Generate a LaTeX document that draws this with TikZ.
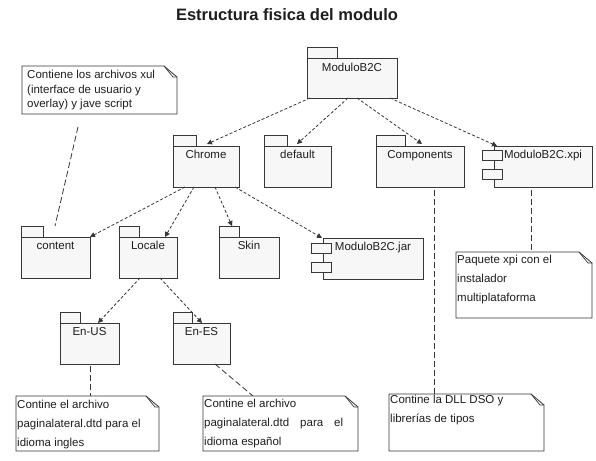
\documentclass[tikz,border=0pt]{standalone}
\usepackage{fontspec}
\setmainfont{Liberation Sans}
\usetikzlibrary{arrows.meta}
\definecolor{pkgfill}{RGB}{247,247,247}
\definecolor{ln}{RGB}{55,55,55}
\definecolor{txt}{RGB}{30,30,30}
\begin{document}
\begin{tikzpicture}[x=1pt,y=-1pt,
  box/.style={draw=ln, line width=0.8pt, fill=pkgfill, inner sep=0pt, outer sep=0pt, anchor=north west},
  tab/.style={draw=ln, line width=0.8pt, fill=pkgfill, inner sep=0pt, outer sep=0pt, anchor=south west, minimum height=11pt},
  icon/.style={draw=ln, line width=0.8pt, fill=pkgfill, inner sep=0pt, outer sep=0pt, anchor=north west, minimum width=20pt, minimum height=10pt},
  notebox/.style={inner sep=0pt, outer sep=0pt, anchor=north west},
  lbl/.style={font=\fontsize{11.5}{14}\selectfont, text=txt, inner sep=0pt, anchor=mid},
  ntext/.style={font=\fontsize{11.5}{19}\selectfont, text=txt, inner sep=0pt, align=left, anchor=north west},
  dep/.style={draw=ln, line width=0.8pt, dash pattern=on 3pt off 2pt, -{Triangle[length=5pt,width=5pt]}},
  nlink/.style={draw=ln, line width=0.8pt, dash pattern=on 6pt off 3pt},
  noteline/.style={draw=ln, line width=0.8pt, fill=white, line join=miter}
]
\path[use as bounding box, fill=white] (0,0) rectangle (596,460);

\node[font=\bfseries\fontsize{16.5}{20}\selectfont, text=txt, inner sep=0pt] (title) at (287,15) {Estructura fisica del modulo};

% packages
\node[box, minimum width=90pt, minimum height=40pt] (MB) at (307,58) {};
\node[tab, minimum width=30pt] (MBTab) at (MB.north west) {};
\node[lbl] (MBL) at ([yshift=-11pt]MB.north) {ModuloB2C};

\node[box, minimum width=66pt, minimum height=41pt] (Chrome) at (173,146) {};
\node[tab, minimum width=23pt] (ChromeTab) at (Chrome.north west) {};
\node[lbl] (ChromeL) at ([yshift=-10pt]Chrome.north) {Chrome};

\node[box, minimum width=67pt, minimum height=41pt] (Default) at (264,146) {};
\node[tab, minimum width=23pt] (DefaultTab) at (Default.north west) {};
\node[lbl] (DefaultL) at ([yshift=-10pt]Default.north) {default};

\node[box, minimum width=88pt, minimum height=41pt] (Comp) at (376,146) {};
\node[tab, minimum width=29pt] (CompTab) at (Comp.north west) {};
\node[lbl] (CompL) at ([yshift=-10pt]Comp.north) {Components};

\node[box, minimum width=69pt, minimum height=41pt] (Content) at (21,237) {};
\node[tab, minimum width=22pt] (ContentTab) at (Content.north west) {};
\node[lbl] (ContentL) at ([yshift=-10pt]Content.north) {content};

\node[box, minimum width=58pt, minimum height=41pt] (Locale) at (119,237) {};
\node[tab, minimum width=20pt] (LocaleTab) at (Locale.north west) {};
\node[lbl] (LocaleL) at ([yshift=-10pt]Locale.north) {Locale};

\node[box, minimum width=60pt, minimum height=41pt] (Skin) at (219,237) {};
\node[tab, minimum width=20pt] (SkinTab) at (Skin.north west) {};
\node[lbl] (SkinL) at ([yshift=-10pt]Skin.north) {Skin};

\node[box, minimum width=59pt, minimum height=41pt] (EnUS) at (60,323) {};
\node[tab, minimum width=20pt] (EnUSTab) at (EnUS.north west) {};
\node[lbl] (EnUSL) at ([yshift=-10pt]EnUS.north) {En-US};

\node[box, minimum width=57pt, minimum height=41pt] (EnES) at (173,323) {};
\node[tab, minimum width=19pt] (EnESTab) at (EnES.north west) {};
\node[lbl] (EnESL) at ([yshift=-10pt]EnES.north) {En-ES};

% components
\node[box, minimum width=98pt, minimum height=41pt] (Xpi) at (494,146) {};
\node[icon] (XpiI1) at ([xshift=-12pt,yshift=-4pt]Xpi.north west) {};
\node[icon] (XpiI2) at ([xshift=-12pt,yshift=-23pt]Xpi.north west) {};
\node[lbl] (XpiL) at ([yshift=-10pt]Xpi.north) {ModuloB2C.xpi};

\node[box, minimum width=100pt, minimum height=41pt] (Jar) at (323,238) {};
\node[icon] (JarI1) at ([xshift=-12pt,yshift=-5pt]Jar.north west) {};
\node[icon] (JarI2) at ([xshift=-12pt,yshift=-24pt]Jar.north west) {};
\node[lbl] (JarL) at ([yshift=-10pt]Jar.north) {ModuloB2C.jar};

% note anchors (invisible boxes)
\foreach \n/\x/\y/\w/\h in {N1/22/66/155/48, NX/456/252/136/66, NUS/16/396/143/55, NES/203/396/155/55, NC/389/394/155/57}{
  \node[notebox, minimum width=\w pt, minimum height=\h pt] (\n) at (\x,\y) {};
}

% note links (drawn first, notes cover their ends)
\draw[nlink] ([xshift=56pt,yshift=-13pt]N1.south west) -- ([xshift=12pt]ContentTab.north east);
\draw[nlink] ([xshift=58pt,yshift=-3pt]Comp.south west) -- ([xshift=45pt]NC.north west);
\draw[nlink] ([xshift=37pt,yshift=-3pt]Xpi.south west) -- ([xshift=75pt]NX.north west);
\draw[nlink] ([xshift=30pt,yshift=-2pt]EnUS.south west) -- ([xshift=74pt]NUS.north west);
\draw[nlink] ([xshift=42pt]EnES.south west) -- ([xshift=50pt]NES.north west);

% note outlines
\foreach \n in {N1,NX,NUS,NES,NC}{
  \draw[noteline] (\n.north west) -- ([xshift=-13pt]\n.north east) -- ([yshift=-11pt]\n.north east) -- (\n.south east) -- (\n.south west) -- cycle;
  \draw[draw=ln, line width=0.7pt, line join=miter] ([xshift=-13pt]\n.north east) -- ([xshift=-4pt,yshift=-11pt]\n.north east) -- ([yshift=-11pt]\n.north east);
}
\node[ntext, font=\fontsize{11.5}{14.5}\selectfont] (N1t) at ([xshift=5pt,yshift=-4pt]N1.north west) {Contiene los archivos xul\\(interface de usuario y\\overlay) y jave script};
\node[ntext] (NXt) at ([xshift=1pt,yshift=-3pt]NX.north west) {Paquete xpi con el\\instalador\\multiplataforma};
\node[ntext] (NUSt) at ([xshift=1pt,yshift=-4pt]NUS.north west) {Contine el archivo\\paginalateral.dtd para el\\idioma ingles};
\node[ntext] (NESt) at ([xshift=1pt,yshift=-3pt]NES.north west) {Contine el archivo\\\hbox to 139pt{paginalateral.dtd\hfil para\hfil el}\\idioma español};
\node[ntext] (NCt) at ([xshift=1pt,yshift=-1pt]NC.north west) {Contine la DLL DSO y\\librerías de tipos};

% dependencies
\draw[dep] ([xshift=3pt]MB.south west) -- ([xshift=34pt,yshift=2pt]Chrome.north west);
\draw[dep] ([xshift=41pt]MB.south west) -- ([xshift=33pt,yshift=2pt]Default.north west);
\draw[dep] ([xshift=50pt]MB.south west) -- ([xshift=46pt,yshift=2pt]Comp.north west);
\draw[dep] ([xshift=83pt]MB.south west) -- ([xshift=3pt]Xpi.north west);
\draw[dep] ([xshift=12pt]Chrome.south west) -- (Content.north east);
\draw[dep] ([xshift=21pt]Chrome.south west) -- ([xshift=46pt]Locale.north west);
\draw[dep] ([xshift=42pt]Chrome.south west) -- ([xshift=13pt]SkinTab.north west);
\draw[dep] ([xshift=62pt]Chrome.south west) -- ([xshift=-1pt]Jar.north west);
\draw[dep] ([xshift=21pt]Locale.south west) -- ([xshift=38pt]EnUS.north west);
\draw[dep] ([xshift=41pt]Locale.south west) -- ([xshift=29pt]EnES.north west);
\end{tikzpicture}
\end{document}
